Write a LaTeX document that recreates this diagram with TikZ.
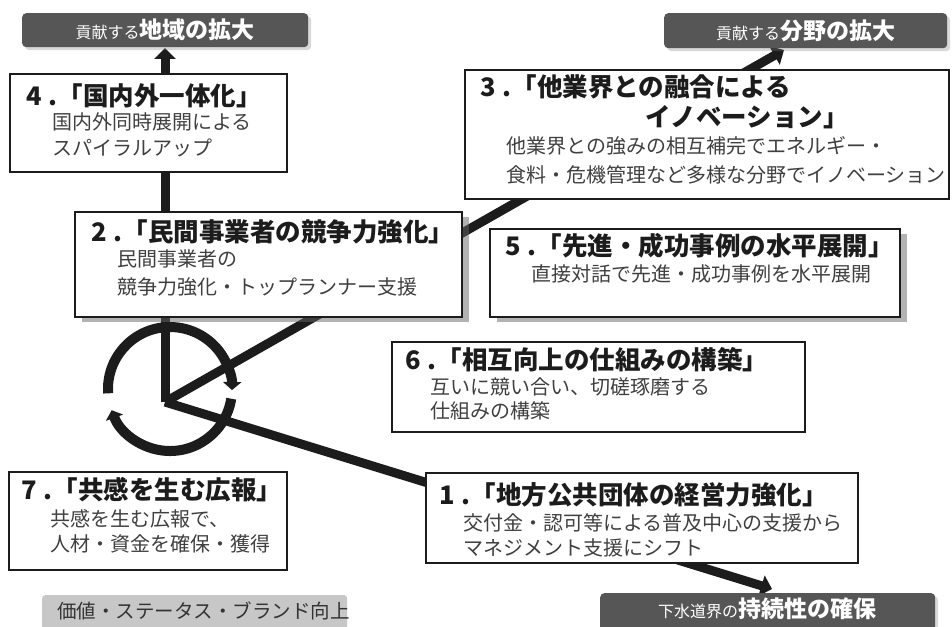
\documentclass[tikz,border=0pt]{standalone}
\usepackage{fontspec}
\setmainfont{Noto Sans CJK JP}
\usetikzlibrary{arrows.meta,shadows}
\definecolor{ink}{HTML}{1C1C1C}
\definecolor{subink}{HTML}{404040}
\definecolor{bannerfill}{HTML}{565656}
\definecolor{labelfill}{HTML}{C7C7C7}
\newcommand{\numdot}[1]{#1\hspace{7pt}.}
\begin{document}
\begin{tikzpicture}[x=1pt,y=-1pt,
  conn/.style={draw=ink, line width=9pt},
  tipped/.style={-{Triangle[length=11pt,width=21pt]}},
  ring/.style={draw=ink, line width=10pt, -{Triangle[length=8pt,width=18pt]}},
  boxnode/.style={draw=ink, line width=1.8pt, fill=white, anchor=north west, inner sep=0pt, outer sep=0pt},
  heavybox/.style={boxnode, line width=2.6pt, drop shadow={shadow xshift=7pt, shadow yshift=-5pt, fill=black!60, opacity=0.5}},
  ttl/.style={anchor=west, inner sep=0pt, text=ink, font=\bfseries\fontsize{25.5}{26}\selectfont},
  sub/.style={anchor=west, inner sep=0pt, text=subink, font=\fontsize{20}{20}\selectfont},
  banner/.style={fill=bannerfill, rounded corners=4pt, anchor=north west, inner sep=0pt, drop shadow={shadow xshift=3pt, shadow yshift=-3pt, opacity=0.3}},
  bannertext/.style={text=white, inner sep=0pt},
]
\useasboundingbox[fill=white] (0,0) rectangle (952,626);

% named points
\coordinate (v) at (165,402);
\coordinate (cc) at (170,389);
\coordinate (tlend) at (165,48);
\coordinate (trend) at (784,50);
\coordinate (brend) at (772,589);

% connectors (behind boxes)
\draw[conn, tipped] (v) -- (tlend);
\draw[conn, tipped] (v) -- (trend);
\draw[conn, tipped] (v) -- (brend);

% cycle arrows
\draw[ring] (cc) ++(176:62) arc[start angle=176, end angle=361, radius=62];
\draw[ring] (cc) ++(9:62) arc[start angle=9, end angle=160, radius=62];

% banners
\node[banner, minimum width=286pt, minimum height=34pt] (tl) at (22,13) {};
\node[bannertext] (tlt) at (tl.center) {{\fontsize{16}{16}\selectfont 貢献する}{\bfseries\fontsize{23}{23}\selectfont 地域の拡大}};
\node[banner, minimum width=283pt, minimum height=35pt] (tr) at (664,13) {};
\node[bannertext] (trt) at (tr.center) {{\fontsize{16}{16}\selectfont 貢献する}{\bfseries\fontsize{23}{23}\selectfont 分野の拡大}};
\node[banner, minimum width=335pt, minimum height=40pt] (br) at (600,593) {};
\node[bannertext] (brt) at (767,609) {{\fontsize{16}{16}\selectfont 下水道界の}{\bfseries\fontsize{23}{23}\selectfont 持続性の確保}};
\node[fill=labelfill, rounded corners=3pt, anchor=north west, inner sep=0pt, minimum width=305pt, minimum height=40pt] (bl) at (42,595) {};
\node[anchor=west, inner sep=0pt, text=ink!90, font=\fontsize{19.5}{20}\selectfont] (blt) at (57,611) {価値・ステータス・ブランド向上};

% box 4
\node[boxnode, minimum width=277pt, minimum height=98pt] (b4) at (10,74) {};
\node[ttl] (b4t) at (26,96) {\numdot{4}「国内外一体化」};
\node[sub] (b4s1) at (52,122) {国内外同時展開による};
\node[sub] (b4s2) at (52,148) {スパイラルアップ};

% box 3
\node[boxnode, minimum width=484pt, minimum height=129pt] (b3) at (465,70) {};
\node[ttl] (b3t1) at (480,87) {\numdot{3}「他業界との融合による};
\node[ttl, anchor=east] (b3t2) at (849,117) {イノベーション」};
\node[sub] (b3s1) at (506,146) {他業界との強みの相互補完でエネルギー・};
\node[sub] (b3s2) at (506,175) {食料・危機管理など多様な分野でイノベーション};

% box 2
\node[heavybox, minimum width=387pt, minimum height=105pt] (b2) at (75,212) {};
\node[ttl] (b2t) at (91,232) {\numdot{2}「民間事業者の競争力強化」};
\node[sub] (b2s1) at (117,259) {民間事業者の};
\node[sub] (b2s2) at (117,287) {競争力強化・トップランナー支援};

% box 5
\node[heavybox, minimum width=410pt, minimum height=88pt] (b5) at (490,229) {};
\node[ttl] (b5t) at (505,246) {\numdot{5}「先進・成功事例の水平展開」};
\node[sub] (b5s) at (531,274) {直接対話で先進・成功事例を水平展開};

% box 6
\node[boxnode, minimum width=413pt, minimum height=90pt] (b6) at (392,342) {};
\node[ttl] (b6t) at (405,360) {\numdot{6}「相互向上の仕組みの構築」};
\node[sub] (b6s1) at (430,387) {互いに競い合い、切磋琢磨する};
\node[sub] (b6s2) at (430,411) {仕組みの構築};

% box 7
\node[boxnode, minimum width=278pt, minimum height=98pt] (b7) at (9,472) {};
\node[ttl] (b7t) at (21,490) {\numdot{7}「共感を生む広報」};
\node[sub] (b7s1) at (50,519) {共感を生む広報で、};
\node[sub] (b7s2) at (50,544) {人材・資金を確保・獲得};

% box 1
\node[boxnode, minimum width=432pt, minimum height=90pt] (b1) at (426,473) {};
\node[ttl] (b1t) at (439,495) {\numdot{1}「地方公共団体の経営力強化」};
\node[sub] (b1s1) at (463,523) {交付金・認可等による普及中心の支援から};
\node[sub] (b1s2) at (463,548) {マネジメント支援にシフト};
\end{tikzpicture}
\end{document}
